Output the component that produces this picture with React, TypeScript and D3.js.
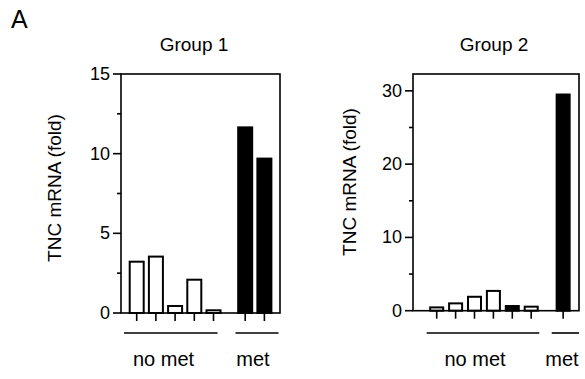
import React from "react";
import * as d3 from "d3";

const g1Values = [3.22, 3.54, 0.44, 2.09, 0.17, 11.65, 9.69];
const g1Groups = ["no met", "no met", "no met", "no met", "no met", "met", "met"];
const g1Fill = ["white", "white", "white", "white", "white", "black", "black"];
const g1Ticks = [0, 2.5, 5, 7.5, 10, 12.5, 15];
const g1Labels = [0, 5, 10, 15];

const g2Values = [0.45, 1.0, 1.9, 2.7, 0.64, 0.55, 29.5];
const g2Groups = ["no met", "no met", "no met", "no met", "no met", "no met", "met"];
const g2Fill = ["white", "white", "white", "white", "black", "white", "black"];
const g2Ticks = [0, 5, 10, 15, 20, 25, 30];
const g2Labels = [0, 10, 20, 30];

const font = "'Liberation Sans', Arial, sans-serif";

type PanelProps = {
  title: string;
  values: number[];
  groups: string[];
  fills: string[];
  ticks: number[];
  labels: number[];
  yMax: number;
  left: number;
  right: number;
  top: number;
  bottom: number;
  x0: number;
  step: number;
  gap: number;
  barW: number;
  titleX: number;
  ylabX: number;
  ylabY: number;
  lines: { name: string; x1: number; x2: number; tx: number }[];
};

function Panel(p: PanelProps) {
  const y = d3.scaleLinear().domain([0, p.yMax]).range([p.bottom, p.top]);
  const pos = p.groups.map((g, i) => i + (g === "met" ? p.gap : 0));
  const x = d3.scaleLinear().domain([0, 1]).range([p.x0, p.x0 + p.step]);
  const sw = 1.6;
  return (
    <g>
      <text x={p.titleX} y={51} textAnchor="middle" fontSize={19} fontFamily={font}>
        {p.title}
      </text>
      <text
        transform={`translate(${p.ylabX},${p.ylabY}) rotate(-90)`}
        textAnchor="middle"
        dominantBaseline="central"
        fontSize={19}
        fontFamily={font}
      >
        TNC mRNA (fold)
      </text>
      {p.values.map((v, i) => (
        <rect
          key={i}
          x={x(pos[i]) - p.barW / 2}
          y={y(v)}
          width={p.barW}
          height={y(0) - y(v)}
          fill={p.fills[i]}
          stroke="black"
          strokeWidth={2}
        />
      ))}
      <rect
        x={p.left}
        y={p.top}
        width={p.right - p.left}
        height={p.bottom - p.top}
        fill="none"
        stroke="black"
        strokeWidth={sw}
      />
      {p.ticks.map((t) => {
        const major = p.labels.includes(t);
        return (
          <line
            key={t}
            x1={p.left - (major ? 8 : 4)}
            x2={p.left}
            y1={y(t)}
            y2={y(t)}
            stroke="black"
            strokeWidth={sw}
          />
        );
      })}
      {p.labels.map((t) => (
        <text
          key={t}
          x={p.left - 11}
          y={y(t)}
          textAnchor="end"
          dominantBaseline="central"
          fontSize={18}
          fontFamily={font}
        >
          {t}
        </text>
      ))}
      {p.values.map((_, i) => (
        <line
          key={i}
          x1={x(pos[i])}
          x2={x(pos[i])}
          y1={p.bottom}
          y2={p.bottom + 8}
          stroke="black"
          strokeWidth={sw}
        />
      ))}
      {p.lines.map((l) => (
        <g key={l.name}>
          <line x1={l.x1} x2={l.x2} y1={333} y2={333} stroke="black" strokeWidth={sw} />
          <text x={l.tx} y={366} textAnchor="middle" fontSize={20} fontFamily={font}>
            {l.name}
          </text>
        </g>
      ))}
    </g>
  );
}

export default function App() {
  return (
    <svg width={585} height={379} style={{ position: "absolute", left: 0, top: 0, background: "white" }}>
      <rect width={585} height={379} fill="white" />
      <text x={11} y={28} fontSize={25} fontFamily={font}>
        A
      </text>
      <Panel
        title="Group 1"
        values={g1Values}
        groups={g1Groups}
        fills={g1Fill}
        ticks={g1Ticks}
        labels={g1Labels}
        yMax={15}
        left={121}
        right={280}
        top={74}
        bottom={313}
        x0={136.7}
        step={19.2}
        gap={0.65}
        barW={14}
        titleX={194}
        ylabX={54.5}
        ylabY={188}
        lines={[
          { name: "no met", x1: 124, x2: 217.5, tx: 163.5 },
          { name: "met", x1: 235.5, x2: 278.5, tx: 253 },
        ]}
      />
      <Panel
        title="Group 2"
        values={g2Values}
        groups={g2Groups}
        fills={g2Fill}
        ticks={g2Ticks}
        labels={g2Labels}
        yMax={32.3}
        left={413}
        right={579}
        top={74}
        bottom={310.7}
        x0={436.7}
        step={18.9}
        gap={0.69}
        barW={13}
        titleX={494}
        ylabX={349}
        ylabY={182}
        lines={[
          { name: "no met", x1: 426.7, x2: 539.3, tx: 475 },
          { name: "met", x1: 551.7, x2: 579, tx: 562 },
        ]}
      />
    </svg>
  );
}
